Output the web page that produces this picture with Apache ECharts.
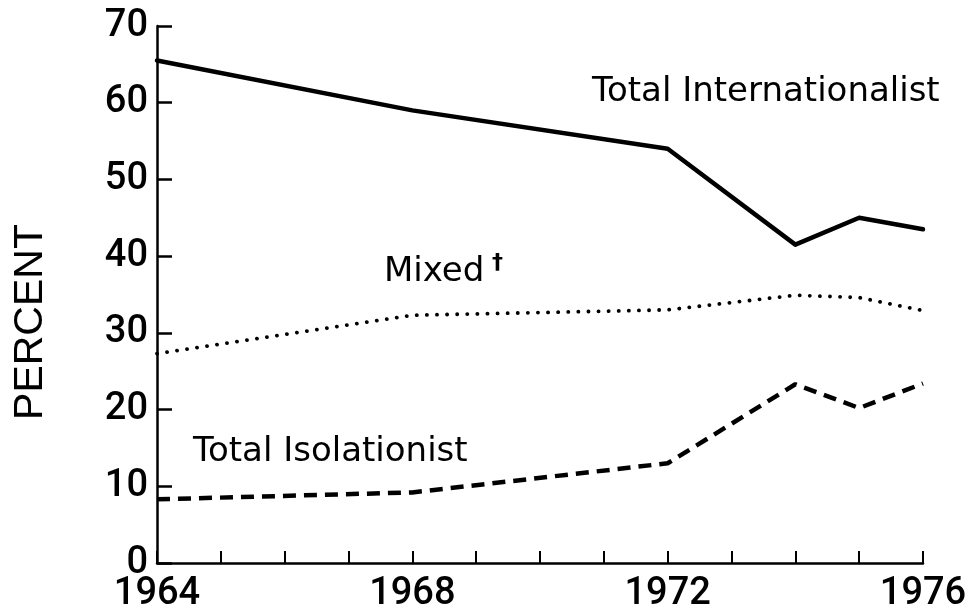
<!DOCTYPE html>
<html>
<head>
<meta charset="utf-8">
<script src="https://cdn.jsdelivr.net/npm/echarts@6/dist/echarts.min.js"></script>
<style>
html,body{margin:0;padding:0;background:#fff;}
#chart{width:973px;height:613px;}
</style>
</head>
<body>
<div id="chart"></div>
<script>
// ---- data ----
const years = [1964, 1968, 1972, 1974, 1975, 1976];
const internationalist = [65.5, 59, 54, 41.5, 45, 43.5];
const mixed = [27.3, 32.3, 33, 34.9, 34.6, 32.9];
const isolationist = [8.3, 9.2, 13, 23.3, 20.2, 23.4];
const xTickLabels = ['1964', '1968', '1972', '1976'];
const yTickLabels = ['0', '10', '20', '30', '40', '50', '60', '70'];
const seriesNames = ['Total Internationalist', 'Mixed', 'Total Isolationist'];

const chart = echarts.init(document.getElementById('chart'), null, {renderer: 'canvas'});

function pairs(vals) { return years.map((y, i) => [y, vals[i]]); }

const tickFont = 'Roboto, "Liberation Sans", Arial, sans-serif';
const noteFont = '"DejaVu Sans", sans-serif';

const option = {
  backgroundColor: '#ffffff',
  animation: false,
  grid: {left: 157, right: 50, top: 26, bottom: 47, containLabel: false},
  xAxis: {
    type: 'value',
    min: 1964, max: 1976, interval: 1,
    axisLine: {show: true, onZero: false, lineStyle: {color: '#000', width: 2.5}},
    axisTick: {show: true, inside: true, length: 12, lineStyle: {color: '#000', width: 2}},
    splitLine: {show: false},
    axisLabel: {
      show: true, margin: 12, color: '#000',
      fontFamily: tickFont, fontSize: 38, fontWeight: 500,
      formatter: v => xTickLabels.includes(String(v)) ? String(v) : ''
    }
  },
  yAxis: {
    type: 'value',
    min: 0, max: 70, interval: 10,
    axisLine: {show: true, lineStyle: {color: '#000', width: 2.5}},
    axisTick: {show: true, inside: true, length: 15, lineStyle: {color: '#000', width: 2.5}},
    splitLine: {show: false},
    axisLabel: {
      show: true, margin: 9, color: '#000',
      fontFamily: tickFont, fontSize: 38, fontWeight: 500,
      formatter: v => yTickLabels[Math.round(v / 10)]
    }
  },
  series: [
    {
      name: seriesNames[0], type: 'line', symbol: 'none',
      data: pairs(internationalist),
      lineStyle: {color: '#000', width: 4.5, type: 'solid', join: 'round', cap: 'round'}
    },
    {
      name: seriesNames[1], type: 'line', symbol: 'none',
      data: pairs(mixed),
      lineStyle: {color: '#000', width: 3.8, type: [0.1, 10], cap: 'round'}
    },
    {
      name: seriesNames[2], type: 'line', symbol: 'none',
      data: pairs(isolationist),
      lineStyle: {color: '#000', width: 4.5, type: [13, 8], cap: 'butt'}
    }
  ],
  graphic: [
    {
      type: 'text', x: 31, y: 322, rotation: Math.PI / 2,
      style: {text: 'PERCENT', fill: '#000', font: '41px "Liberation Sans", Arial, sans-serif',
              align: 'center', verticalAlign: 'middle'}
    },
    {
      type: 'text', x: 592, y: 92,
      style: {text: seriesNames[0], fill: '#000', font: '34px ' + noteFont,
              align: 'left', verticalAlign: 'middle'}
    },
    {
      type: 'text', x: 384, y: 272,
      style: {text: seriesNames[1], fill: '#000', font: '34px ' + noteFont,
              align: 'left', verticalAlign: 'middle'}
    },
    {
      type: 'text', x: 492, y: 263,
      style: {text: '\u2020', fill: '#000', font: 'bold 22px ' + noteFont,
              align: 'left', verticalAlign: 'middle'}
    },
    {
      type: 'text', x: 193, y: 452,
      style: {text: seriesNames[2], fill: '#000', font: '34px ' + noteFont,
              align: 'left', verticalAlign: 'middle'}
    }
  ]
};
chart.setOption(option);
</script>
</body>
</html>
